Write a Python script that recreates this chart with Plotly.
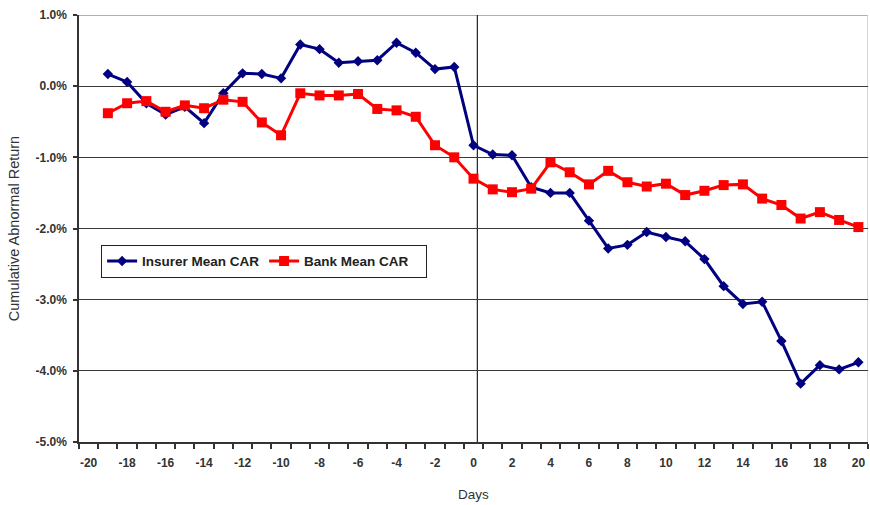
import plotly.graph_objects as go

days = list(range(-19, 21))
insurer_car = [0.17, 0.06, -0.24, -0.40, -0.29, -0.52, -0.10, 0.18, 0.17, 0.11,
               0.585, 0.52, 0.33, 0.35, 0.365, 0.61, 0.47, 0.24, 0.27,
               -0.83, -0.96, -0.97, -1.42, -1.50, -1.50, -1.89, -2.28, -2.23, -2.05,
               -2.12, -2.18, -2.43, -2.81, -3.06, -3.03, -3.58, -4.18, -3.92, -3.98, -3.88]
bank_car = [-0.38, -0.24, -0.21, -0.36, -0.27, -0.31, -0.19, -0.22, -0.51, -0.69,
            -0.10, -0.13, -0.13, -0.11, -0.32, -0.34, -0.43, -0.83, -1.00,
            -1.30, -1.45, -1.49, -1.44, -1.07, -1.21, -1.38, -1.19, -1.35, -1.41,
            -1.37, -1.53, -1.47, -1.39, -1.38, -1.58, -1.67, -1.86, -1.77, -1.88, -1.98]
x_tick_vals = list(range(-20, 21, 2))
x_tick_text = [str(v) for v in x_tick_vals]
y_tick_vals = [1, 0, -1, -2, -3, -4, -5]
y_tick_text = ["1.0%", "0.0%", "-1.0%", "-2.0%", "-3.0%", "-4.0%", "-5.0%"]

FONT = "Liberation Sans, Arial, sans-serif"

fig = go.Figure()
fig.add_trace(go.Scatter(
    x=days, y=insurer_car, name="Insurer Mean CAR", mode="lines+markers",
    line=dict(color="#000080", width=3),
    marker=dict(symbol="diamond", size=8, color="#000080"),
))
fig.add_trace(go.Scatter(
    x=days, y=bank_car, name="Bank Mean CAR", mode="lines+markers",
    line=dict(color="#FF0000", width=3),
    marker=dict(symbol="square", size=10, color="#FF0000"),
))

# plot-area top border (light) and right border
fig.add_shape(type="line", xref="x", yref="y", x0=-20.5, x1=20.5, y0=1, y1=1,
              line=dict(color="#b0b0b0", width=2), layer="below")
fig.add_shape(type="line", xref="x", yref="y", x0=20.5, x1=20.5, y0=-5, y1=1,
              line=dict(color="#c8c8c8", width=1.5), layer="below")
# event-day vertical line
fig.add_shape(type="line", xref="x", yref="y", x0=0.2, x1=0.2, y0=-5.05, y1=1,
              line=dict(color="#222222", width=1.2), layer="below")

fig.update_layout(
    width=870, height=505,
    margin=dict(l=79, r=2, t=15, b=63),
    paper_bgcolor="white", plot_bgcolor="white",
    font=dict(family=FONT, color="#333333"),
    showlegend=True,
    legend=dict(
        orientation="h", x=0.028, y=0.462, xanchor="left", yanchor="top",
        bgcolor="white", bordercolor="#222222", borderwidth=1,
        font=dict(family=FONT, size=13.5, color="#222222", weight="bold"),
        entrywidth=117, itemwidth=30, tracegroupgap=0,
    ),
    xaxis=dict(
        range=[-20.5, 20.5], tickmode="array", tickvals=x_tick_vals, ticktext=x_tick_text,
        ticks="", showgrid=False, zeroline=False, automargin=False,
        showline=True, linecolor="#333333", linewidth=1.5,
        tickfont=dict(family=FONT, size=12, color="#333333", weight="bold"),
        minor=dict(ticks="outside", tick0=0.5, dtick=1, ticklen=5, tickcolor="#333333", tickwidth=1.5),
        title=dict(text="Days", font=dict(family=FONT, size=13.5, color="#333333"), standoff=20),
        ticklabelstandoff=9,
    ),
    yaxis=dict(
        range=[-5, 1], tickmode="array", tickvals=y_tick_vals, ticktext=y_tick_text,
        ticks="outside", ticklen=4, tickcolor="#333333", tickwidth=1.5,
        showgrid=True, gridcolor="#3a3a3a", gridwidth=1, zeroline=False, automargin=False,
        showline=True, linecolor="#333333", linewidth=1.5,
        tickfont=dict(family=FONT, size=12, color="#333333", weight="bold"),
        title=dict(text="Cumulative Abnormal Return", font=dict(family=FONT, size=14.5, color="#333333"), standoff=12),
        ticklabelstandoff=4,
    ),
)

fig.write_html("out.html", config={"displayModeBar": False},
               post_script="document.body.style.margin='0';")
